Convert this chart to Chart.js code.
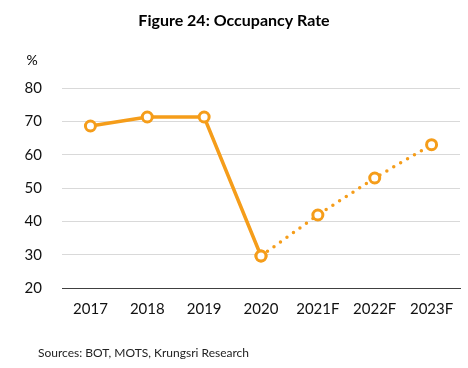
<!DOCTYPE html>
<html>
<head>
<meta charset="utf-8">
<script src="https://cdn.jsdelivr.net/npm/chart.js@4.4.0/dist/chart.umd.min.js"></script>
<style>
  html, body { margin: 0; padding: 0; background: #fff; }
  #wrap { width: 468px; height: 368px; position: relative; }
</style>
</head>
<body>
<div id="wrap"><canvas id="lineChart"></canvas></div>
<script>
const years = ['2017', '2018', '2019', '2020', '2021F', '2022F', '2023F'];
const actual = [68.6, 71.3, 71.3, 29.6, null, null, null];
const forecast = [null, null, null, 29.6, 41.9, 53.0, 63.0];
const yTicks = [20, 30, 40, 50, 60, 70, 80];

const orange = '#F59D1A';
const fontName = 'Lato, "Open Sans", sans-serif';

// title, unit label and source note
const extras = {
    id: 'extras',
    afterDraw(chart) {
        const c = chart.ctx;
        c.save();
        c.fillStyle = '#000';
        c.textBaseline = 'middle';
        c.textAlign = 'center';
        c.font = 'bold 16px ' + fontName;
        c.fillText('Figure 24: Occupancy Rate', 234, 21);
        c.font = '14px ' + fontName;
        c.fillText('%', 32, 60);
        c.textAlign = 'left';
        c.font = '12px ' + fontName;
        c.fillStyle = '#222';
        c.fillText('Sources: BOT, MOTS, Krungsri Research', 38, 353);
        c.restore();
    }
};

const ctx = document.getElementById('lineChart').getContext('2d');
const myChart = new Chart(ctx, {
    type: 'line',
    data: {
        labels: years,
        datasets: [{
            label: 'Actual',
            data: actual,
            borderColor: orange,
            backgroundColor: '#fff',
            borderWidth: 3.5,
            pointRadius: 5,
            pointBorderWidth: 3,
            pointBackgroundColor: '#fff',
            pointBorderColor: orange,
            spanGaps: false
        }, {
            label: 'Forecast',
            data: forecast,
            borderColor: orange,
            backgroundColor: '#fff',
            borderWidth: 3.5,
            borderDash: [0, 8],
            borderCapStyle: 'round',
            pointRadius: 5,
            pointBorderWidth: 3,
            pointBackgroundColor: '#fff',
            pointBorderColor: orange
        }]
    },
    options: {
        responsive: true,
        maintainAspectRatio: false,
        animation: false,
        layout: { padding: { top: 88, right: 7, left: 0, bottom: 0 } },
        plugins: {
            legend: { display: false },
            tooltip: { enabled: false }
        },
        scales: {
            x: {
                offset: true,
                grid: { display: false, drawTicks: false, offset: true },
                border: { display: true, color: '#404040', width: 1 },
                ticks: { color: '#111', padding: 12, font: { family: fontName, size: 15 } },
                afterFit(scale) { scale.height = 80; }
            },
            y: {
                min: 20,
                max: 80,
                afterBuildTicks(scale) { scale.ticks = yTicks.map(v => ({ value: v })); },
                grid: { color: '#d9d9d9', drawTicks: false },
                border: { display: false },
                ticks: { color: '#111', padding: 20, font: { family: fontName, size: 15 } },
                afterFit(scale) { scale.width = 62; }
            }
        }
    },
    plugins: [extras]
});
</script>
</body>
</html>
